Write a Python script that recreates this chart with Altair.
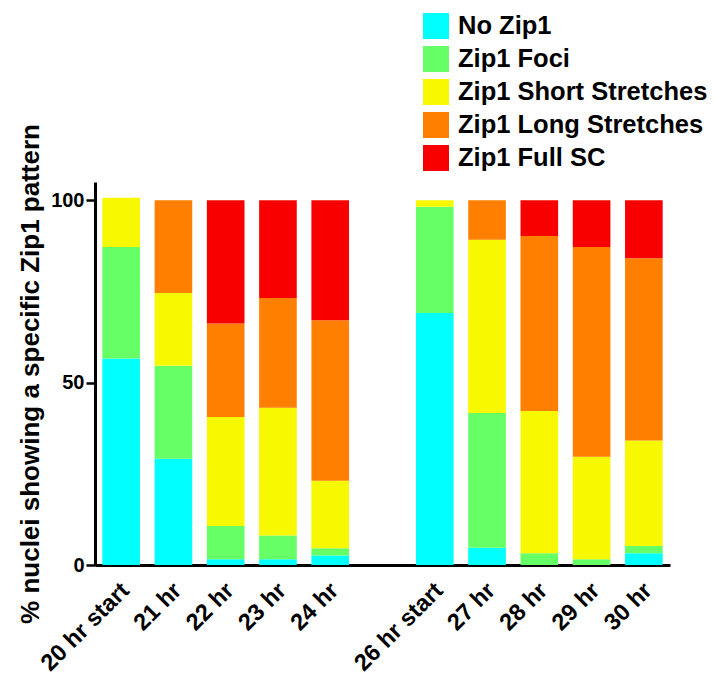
import altair as alt
import pandas as pd

categories = ["20 hr start", "21 hr", "22 hr", "23 hr", "24 hr", " ",
              "26 hr start", "27 hr", "28 hr", "29 hr", "30 hr"]
bar_categories = ["20 hr start", "21 hr", "22 hr", "23 hr", "24 hr",
                  "26 hr start", "27 hr", "28 hr", "29 hr", "30 hr"]
patterns = ["No Zip1", "Zip1 Foci", "Zip1 Short Stretches",
            "Zip1 Long Stretches", "Zip1 Full SC"]
colors = ["#00FFFF", "#66FF66", "#F8F800", "#FF8000", "#F80000"]

no_zip1 = [56.6, 29.1, 1.6, 1.6, 2.6, 69.1, 4.7, 0.0, 0.0, 3.2]
foci = [30.6, 25.5, 9.1, 6.5, 2.0, 29.1, 37.0, 3.2, 1.6, 2.0]
short_str = [13.5, 20.0, 29.9, 35.0, 18.5, 1.8, 47.5, 39.0, 28.1, 28.9]
long_str = [0.0, 25.4, 25.6, 30.1, 44.0, 0.0, 10.8, 48.0, 57.5, 50.0]
full_sc = [0.0, 0.0, 33.8, 26.8, 32.9, 0.0, 0.0, 9.8, 12.8, 15.9]

series = [no_zip1, foci, short_str, long_str, full_sc]
rows = []
for pi, (name, vals) in enumerate(zip(patterns, series)):
    for cat, v in zip(bar_categories, vals):
        rows.append({"time": cat, "pattern": name, "value": v, "order": pi})
df = pd.DataFrame(rows)

FONT = "Liberation Sans"

chart = alt.Chart(df).mark_bar().encode(
    x=alt.X("time:N", sort=categories,
            scale=alt.Scale(domain=categories, paddingInner=0.28, paddingOuter=0.14),
            axis=alt.Axis(title=None, labelAngle=-45, labelFontSize=23.5,
                          labelFontWeight="bold", labelColor="black",
                          labelFont=FONT, ticks=False, labelAlign="right",
                          labelBaseline="top", labelOffset=-4,
                          domainColor="black", domainWidth=3, labelPadding=13)),
    y=alt.Y("value:Q", stack="zero",
            scale=alt.Scale(domain=[0, 105], nice=False),
            axis=alt.Axis(title="% nuclei showing a specific Zip1 pattern",
                          values=[0, 50, 100], grid=False, tickSize=9,
                          tickWidth=2.5, tickColor="black", domainColor="black",
                          domainWidth=3, labelFontSize=20, labelFontWeight="bold",
                          labelColor="black", labelFont=FONT,
                          titleFontSize=26, titleFontWeight="bold",
                          titleFont=FONT, titleColor="black",
                          titlePadding=7, labelPadding=2)),
    color=alt.Color("pattern:N", sort=patterns,
                    scale=alt.Scale(domain=patterns, range=colors),
                    legend=alt.Legend(title=None, orient="none", legendX=328,
                                      legendY=-169, symbolType="square",
                                      symbolSize=676, symbolStrokeWidth=0,
                                      labelFontSize=25.5, labelFontWeight="bold",
                                      labelFont=FONT,
                                      labelColor="black", rowPadding=6,
                                      labelOffset=9, labelLimit=400)),
    order=alt.Order("order:Q", sort="ascending"),
).properties(
    width=575, height=383,
    padding={"left": 9, "top": 5, "right": 0, "bottom": 0}
).configure_view(stroke=None)

chart.save("out.html", embed_options={"renderer": "svg", "actions": False})
